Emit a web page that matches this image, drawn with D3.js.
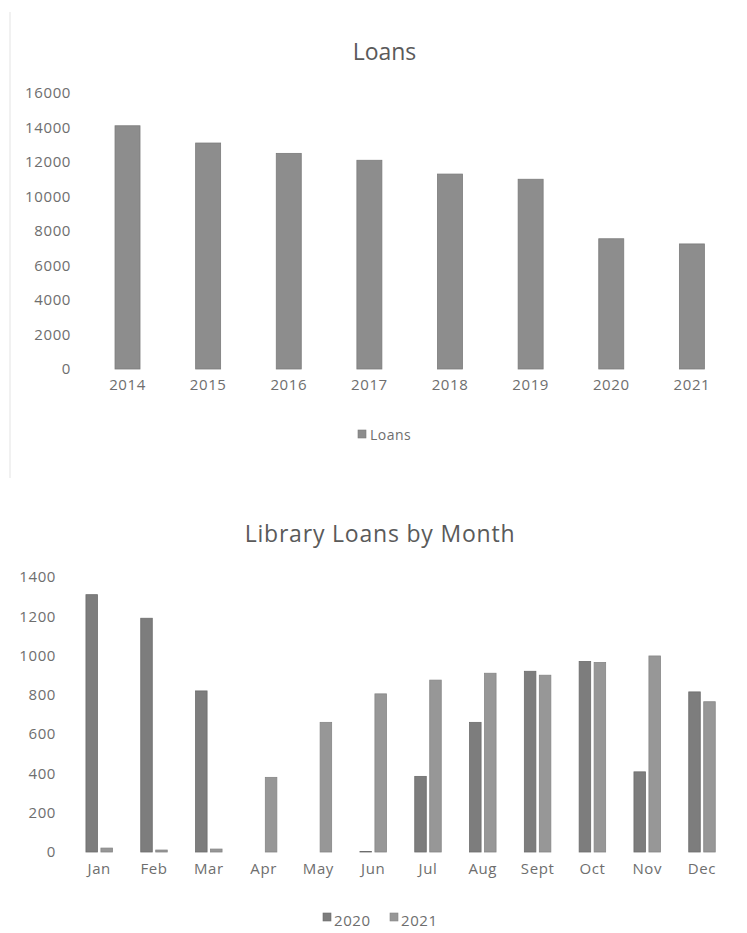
<!DOCTYPE html>
<html>
<head>
<meta charset="utf-8">
<script src="https://cdn.jsdelivr.net/npm/d3@7"></script>
<style>
  html, body { margin: 0; padding: 0; background: #ffffff; }
  svg { display: block; }
  text { font-family: "Open Sans", "Noto Sans", sans-serif; }
</style>
</head>
<body>
<svg id="chart" width="747" height="933"></svg>
<script>
// Annual totals
const years = ["2014", "2015", "2016", "2017", "2018", "2019", "2020", "2021"];
const loans = [14100, 13100, 12500, 12100, 11300, 11000, 7550, 7250];
const loanTicks = [0, 2000, 4000, 6000, 8000, 10000, 12000, 14000, 16000];

// Monthly totals, two years side by side
const months = ["Jan", "Feb", "Mar", "Apr", "May", "Jun", "Jul", "Aug", "Sept", "Oct", "Nov", "Dec"];
const series = ["2020", "2021"];
const loans2020 = [1310, 1190, 820, 0, 0, 3, 385, 660, 920, 970, 408, 815];
const loans2021 = [20, 10, 15, 380, 660, 805, 875, 910, 900, 965, 998, 765];
const monthTicks = [0, 200, 400, 600, 800, 1000, 1200, 1400];

const textColor = "#6e6e6e";
const titleColor = "#5a5a5a";
const fills = { "Loans": "#8d8d8d", "2020": "#7d7d7d", "2021": "#979797" };
const strokes = { "Loans": "#7b7b7b", "2020": "#6c6c6c", "2021": "#868686" };

const svg = d3.select("#chart");

// faint frame edge on the left of the upper chart
svg.append("line")
  .attr("x1", 10).attr("x2", 10).attr("y1", 12).attr("y2", 478)
  .attr("stroke", "#ececec").attr("stroke-width", 1.5);

function styleAxis(g) {
  g.select(".domain").remove();
  g.selectAll(".tick line").remove();
  g.selectAll(".tick text")
    .attr("fill", textColor)
    .style("font-size", "15px")
    .style("letter-spacing", "0.6px");
}

// ---------- Upper chart: Loans per year ----------
{
  const x = d3.scaleBand().domain(years).range([87.2, 732.2]).padding(0);
  const y = d3.scaleLinear().domain([0, 16000]).range([369, 93]);
  const barFrac = 0.31;

  svg.append("text")
    .attr("x", 384.5).attr("y", 60)
    .attr("text-anchor", "middle")
    .attr("fill", titleColor)
    .style("font-size", "23px")
    .text("Loans");

  svg.append("g")
    .attr("transform", "translate(71,0)")
    .call(d3.axisLeft(y).tickValues(loanTicks).tickFormat(d3.format("d")).tickSize(0).tickPadding(0))
    .call(styleAxis);

  svg.append("g")
    .attr("transform", `translate(0,${y(0)})`)
    .call(d3.axisBottom(x).tickSize(0).tickPadding(10))
    .call(styleAxis);

  svg.append("g").selectAll("rect")
    .data(years.map((yr, i) => ({ yr, v: loans[i] })))
    .join("rect")
    .attr("x", d => x(d.yr) + x.bandwidth() * (1 - barFrac) / 2)
    .attr("width", x.bandwidth() * barFrac)
    .attr("y", d => y(d.v))
    .attr("height", d => y(0) - y(d.v))
    .attr("fill", fills["Loans"])
    .attr("stroke", strokes["Loans"])
    .attr("stroke-width", 0.8);

  const lg = svg.append("g").attr("transform", "translate(358,430)");
  lg.append("rect").attr("width", 8).attr("height", 8)
    .attr("fill", fills["Loans"]).attr("stroke", strokes["Loans"]).attr("stroke-width", 0.6);
  lg.append("text").attr("x", 12).attr("y", 9.5)
    .attr("fill", textColor).style("font-size", "14px").style("letter-spacing", "0.5px").text("Loans");
}

// ---------- Lower chart: Library loans by month ----------
{
  const x = d3.scaleBand().domain(months).range([71.8, 729.4]).padding(0);
  const groupW = 26.5;
  const xs = d3.scaleBand().domain(series).range([0, groupW]).paddingInner(0.23);
  const y = d3.scaleLinear().domain([0, 1400]).range([852, 577]);

  svg.append("text")
    .attr("x", 380).attr("y", 542)
    .attr("text-anchor", "middle")
    .attr("fill", titleColor)
    .style("font-size", "23px")
    .style("letter-spacing", "0.8px")
    .text("Library Loans by Month");

  svg.append("g")
    .attr("transform", "translate(56,0)")
    .call(d3.axisLeft(y).tickValues(monthTicks).tickFormat(d3.format("d")).tickSize(0).tickPadding(0))
    .call(styleAxis);

  svg.append("g")
    .attr("transform", `translate(0,${y(0)})`)
    .call(d3.axisBottom(x).tickSize(0).tickPadding(11))
    .call(styleAxis);

  const rows = months.map((m, i) => ({ m, vals: [
    { s: "2020", v: loans2020[i] },
    { s: "2021", v: loans2021[i] }
  ]}));

  svg.append("g").selectAll("g")
    .data(rows)
    .join("g")
    .attr("transform", d => `translate(${x(d.m) + (x.bandwidth() - groupW) / 2},0)`)
    .selectAll("rect")
    .data(d => d.vals)
    .join("rect")
    .attr("x", d => xs(d.s))
    .attr("width", xs.bandwidth())
    .attr("y", d => y(d.v))
    .attr("height", d => y(0) - y(d.v))
    .attr("fill", d => fills[d.s])
    .attr("stroke", d => d.v > 0 ? strokes[d.s] : "none")
    .attr("stroke-width", 0.8);

  const lg = svg.append("g").attr("transform", "translate(323,913)");
  const items = lg.selectAll("g").data(series).join("g")
    .attr("transform", (d, i) => `translate(${i * 67},0)`);
  items.append("rect").attr("width", 8).attr("height", 8)
    .attr("fill", d => fills[d]).attr("stroke", d => strokes[d]).attr("stroke-width", 0.6);
  items.append("text").attr("x", 11).attr("y", 12.5)
    .attr("fill", textColor).style("font-size", "15px").style("letter-spacing", "0.6px").text(d => d);
}
</script>
</body>
</html>
